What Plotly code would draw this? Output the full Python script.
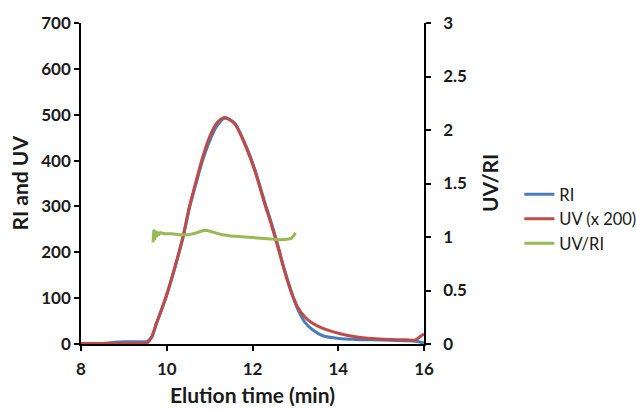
import plotly.graph_objects as go

# ---- data ----
time = [8.0, 8.5, 8.8, 9.0, 9.3, 9.5, 9.55, 9.65, 9.76, 9.88, 10.0, 10.15, 10.38, 10.53,
        10.69, 10.84, 11.0, 11.16, 11.35, 11.58, 11.81, 12.05, 12.28, 12.43, 12.59, 12.74,
        12.90, 13.05, 13.21, 13.40, 13.64, 14.02, 14.4, 14.8, 15.2, 15.57, 15.8, 15.92, 16.0]
ri = [0, 1, 4, 5, 5, 5, 6, 16, 45, 75, 107, 153, 232, 297,
      352, 401, 443, 474, 492, 482, 440, 382, 311, 267, 216, 164,
      116, 77, 49, 31, 18, 12, 10, 9, 8, 7, 6, 4, 2]
uv = [1, 1, 1, 1, 1.5, 2, 3, 15, 45, 75, 108, 155, 235, 300,
      357, 408, 452, 481, 494, 481, 438, 379, 307, 263, 212, 161,
      114, 81, 60, 45, 34, 23, 16, 12, 10, 9, 9, 17, 22]

ratio_time = [9.68, 9.70, 9.72, 9.74, 9.76, 9.78, 9.80, 9.85, 9.95, 10.1, 10.3, 10.5, 10.7,
              10.85, 10.95, 11.1, 11.3, 11.5, 11.7, 11.9, 12.1, 12.3, 12.5, 12.65, 12.8,
              12.9, 12.96, 13.0]
ratio = [0.95, 1.07, 0.97, 1.06, 1.0, 1.05, 1.02, 1.04, 1.03, 1.03, 1.02, 1.02, 1.04,
         1.06, 1.06, 1.04, 1.02, 1.01, 1.005, 1.0, 0.99, 0.985, 0.98, 0.975, 0.98,
         0.985, 1.01, 1.04]

x_ticks = [8, 10, 12, 14, 16]
y_ticks = [0, 100, 200, 300, 400, 500, 600, 700]
y2_ticks = [0, 0.5, 1, 1.5, 2, 2.5, 3]

FONT = "Lato"
BLUE = "#4A7EBB"
RED = "#BE4B48"
GREEN = "#98B954"
TXT = "#1a1a1a"

fig = go.Figure()
fig.add_trace(go.Scatter(x=ratio_time, y=ratio, mode="lines", name="UV/RI", yaxis="y2",
                         line=dict(color=GREEN, width=3), legendrank=3))
fig.add_trace(go.Scatter(x=time, y=ri, mode="lines", name="RI",
                         line=dict(color=BLUE, width=3, shape="spline", smoothing=0.8),
                         legendrank=1))
fig.add_trace(go.Scatter(x=time, y=uv, mode="lines", name="UV (x 200)",
                         line=dict(color=RED, width=3, shape="spline", smoothing=0.8),
                         legendrank=2))

axis_common = dict(showgrid=False, zeroline=False, showline=True, linecolor="black",
                   linewidth=1.5, ticks="outside", ticklen=5, tickwidth=1.5, tickcolor="black",
                   tickfont=dict(family=FONT, size=17, color=TXT, weight="bold"))

fig.update_layout(
    width=636, height=410,
    margin=dict(l=81, r=212, t=23, b=66, autoexpand=False),
    paper_bgcolor="white", plot_bgcolor="white",
    xaxis=dict(range=[8, 16], tickvals=x_ticks, ticklabelstandoff=4, **axis_common),
    yaxis=dict(range=[0, 700], tickvals=y_ticks, **axis_common),
    yaxis2=dict(range=[0, 3], tickvals=y2_ticks, overlaying="y", side="right",
                ticklabelstandoff=9, **axis_common),
    legend=dict(x=1.278, y=0.389, xanchor="left", yanchor="middle",
                font=dict(family=FONT, size=16.5, color=TXT),
                bgcolor="rgba(0,0,0,0)"),
    annotations=[
        dict(text="Elution time (min)", xref="paper", yref="paper", x=0.5, y=0,
             yshift=-65, showarrow=False, xanchor="center", yanchor="bottom",
             font=dict(family=FONT, size=21, color=TXT, weight="bold")),
        dict(text="RI and UV", xref="paper", yref="paper", x=0, y=0.5, xshift=-62,
             textangle=-90, showarrow=False, xanchor="center", yanchor="middle",
             font=dict(family=FONT, size=21, color=TXT, weight="bold")),
        dict(text="UV/RI", xref="paper", yref="paper", x=1, y=0.5016, xshift=66,
             textangle=-90, showarrow=False, xanchor="center", yanchor="middle",
             font=dict(family=FONT, size=21, color=TXT, weight="bold")),
    ],
)

fig.write_html("out.html")
